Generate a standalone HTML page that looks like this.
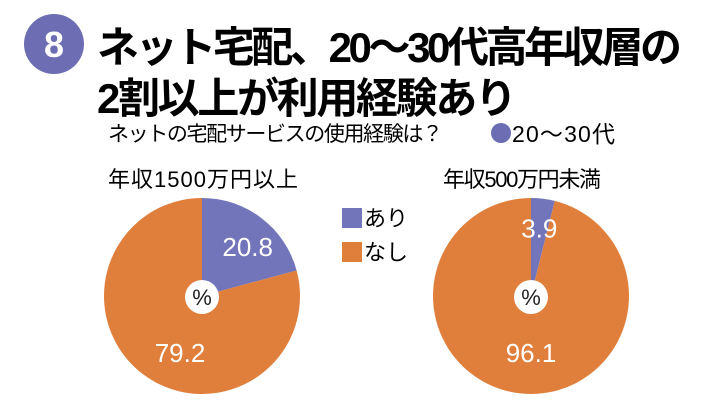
<!DOCTYPE html>
<html><head><meta charset="utf-8"><style>
body{margin:0;background:#fff;}
#c{position:relative;width:710px;height:403px;overflow:hidden;font-family:"Liberation Sans","Noto Sans CJK JP",sans-serif;color:#111;}
</style></head><body>
<div id="c">
<svg width="710" height="403" style="position:absolute;left:0;top:0">
<circle cx="54" cy="44" r="30" fill="#6c6db3"/>
<text x="54" y="57" text-anchor="middle" font-size="36" font-weight="bold" fill="#fff" font-family="Liberation Sans, sans-serif">8</text>
<text x="97" y="62" font-size="42" font-weight="bold" font-family="Liberation Sans, Noto Sans CJK JP, sans-serif" textLength="585">ネット宅配、20～30代高年収層の</text>
<text x="97" y="113" font-size="42" font-weight="bold" font-family="Liberation Sans, Noto Sans CJK JP, sans-serif" textLength="420">2割以上が利用経験あり</text>
<text x="108" y="141" font-size="21" font-family="Liberation Sans, Noto Sans CJK JP, sans-serif" textLength="335">ネットの宅配サービスの使用経験は？</text>
<circle cx="501" cy="133" r="10" fill="#6c6db3"/>
<text x="512" y="142" font-size="23" font-family="Liberation Sans, Noto Sans CJK JP, sans-serif" textLength="103">20～30代</text>
<text x="108" y="187" font-size="22" font-family="Liberation Sans, Noto Sans CJK JP, sans-serif" textLength="190">年収1500万円以上</text>
<text x="443" y="187" font-size="22" font-family="Liberation Sans, Noto Sans CJK JP, sans-serif" textLength="158">年収500万円未満</text>
<rect x="342" y="208" width="20" height="20" fill="#7275b9"/>
<text x="364" y="226" font-size="22" font-family="Liberation Sans, Noto Sans CJK JP, sans-serif">あり</text>
<rect x="342" y="242" width="20" height="20" fill="#e07f3c"/>
<text x="364" y="260" font-size="22" font-family="Liberation Sans, Noto Sans CJK JP, sans-serif">なし</text>
<g id="pies"></g>
</svg>
</div>
<script>
const pieNames=["pie-high-income","pie-low-income"];
const yesValues=[20.8,3.9];
const noValues=[79.2,96.1];
const centers=[[202,296],[531,296]];
const R=98;
const g=document.getElementById('pies');
const NS='http://www.w3.org/2000/svg';
function pt(cx,cy,r,frac){const a=frac*2*Math.PI-Math.PI/2;return [cx+r*Math.cos(a),cy+r*Math.sin(a)];}
function slice(cx,cy,f0,f1,color){
  const p=document.createElementNS(NS,'path');
  const a=pt(cx,cy,R,f0),b=pt(cx,cy,R,f1);
  const large=(f1-f0)>0.5?1:0;
  p.setAttribute('d',`M${cx},${cy}L${a[0]},${a[1]}A${R},${R} 0 ${large} 1 ${b[0]},${b[1]}Z`);
  p.setAttribute('fill',color);
  return p;
}
function label(x,y,t){
  const e=document.createElementNS(NS,'text');
  e.setAttribute('x',x);e.setAttribute('y',y);e.setAttribute('text-anchor','middle');
  e.setAttribute('font-size','26');e.setAttribute('fill','#fff');
  e.setAttribute('font-family','Liberation Sans, sans-serif');
  e.textContent=t;return e;
}
pieNames.forEach((n,i)=>{
  const [cx,cy]=centers[i];
  const tot=yesValues[i]+noValues[i];
  const fy=yesValues[i]/tot;
  const s1=slice(cx,cy,0,fy,'#7275b9');
  
  
  g.appendChild(s1);
  const s2=slice(cx,cy,fy,1,'#e07f3c');
  
  
  g.appendChild(s2);
  const lr=fy<0.1?68:62;
  const pa=pt(cx,cy,lr,fy/2);
  const l1=label(pa[0]+(fy<0.1?0:8),pa[1]+9,yesValues[i].toFixed(1));
  
  
  g.appendChild(l1);
  const l2=label(fy<0.1?cx:cx-22,cy+66,noValues[i].toFixed(1));
  
  
  g.appendChild(l2);
  const c=document.createElementNS(NS,'circle');
  c.setAttribute('cx',cx);c.setAttribute('cy',cy+1);c.setAttribute('r',17);c.setAttribute('fill','#fff');
  
  
  g.appendChild(c);
  const pc=document.createElementNS(NS,'text');
  pc.setAttribute('x',cx);pc.setAttribute('y',cy+9);pc.setAttribute('text-anchor','middle');
  pc.setAttribute('font-size','22');pc.setAttribute('fill','#222');
  pc.setAttribute('font-family','Liberation Sans, sans-serif');
  pc.textContent='%';
  
  
  g.appendChild(pc);
});
</script>
</body></html>
